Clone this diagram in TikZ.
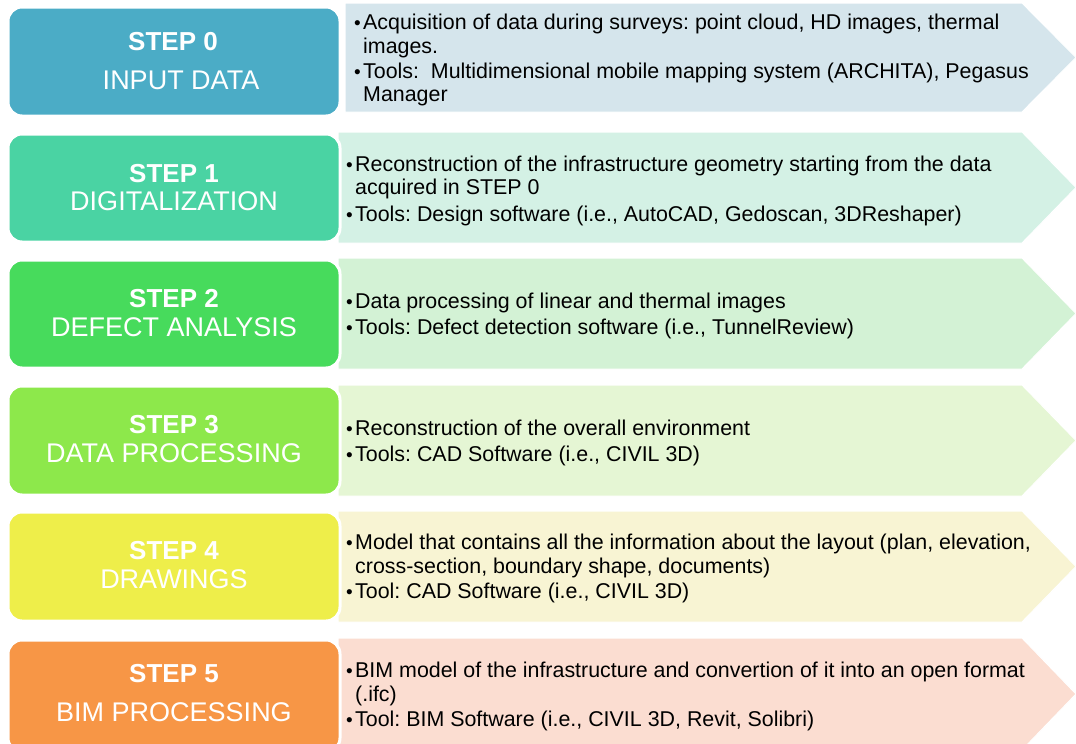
\documentclass[tikz,border=0pt]{standalone}
\usepackage{fontspec}
\setmainfont{Liberation Sans}
\frenchspacing
\definecolor{d0}{HTML}{4BACC6} \definecolor{l0}{HTML}{D5E5EC}
\definecolor{d1}{HTML}{4AD3A3} \definecolor{l1}{HTML}{D4F1E5}
\definecolor{d2}{HTML}{47DB5C} \definecolor{l2}{HTML}{D3F2D5}
\definecolor{d3}{HTML}{8DE84B} \definecolor{l3}{HTML}{E5F6D4}
\definecolor{d4}{HTML}{EEEE4A} \definecolor{l4}{HTML}{F8F4D3}
\definecolor{d5}{HTML}{F79646} \definecolor{l5}{HTML}{FBDDD1}
\tikzset{
  stepbox/.style={rounded corners=14pt, draw=white, line width=3pt},
  arrowbox/.style={draw=white, line width=1pt, line join=miter},
  steptitle/.style={text=white, inner sep=0pt, font=\bfseries\fontsize{26}{30}\selectfont},
  stepsub/.style={text=white, inner sep=0pt, font=\fontsize{27}{31}\selectfont},
  body/.style={anchor=base west, inner sep=0pt, font=\fontsize{21.4}{24}\selectfont},
  bul/.style={anchor=base west, inner sep=0pt, font=\fontsize{19}{24}\selectfont},
}
\begin{document}
\begin{tikzpicture}[x=1pt,y=-1pt]
\useasboundingbox (0,0) rectangle (1076,744);
% ---------- row 0
\fill[l0,arrowbox] (345,3) -- (1022,3) -- (1076,57.5) -- (1022,112) -- (345,112) -- cycle;
\fill[d0,stepbox] (8,7) rectangle (340,116);
\node[steptitle] (t0) at (173,42) {STEP 0};
\node[stepsub] (s0) at (181,80) {INPUT DATA};
\node[bul] (b0a) at (354,29) {•};
\node[body] (x0a) at (363,29) {Acquisition of data during surveys: point cloud, HD images, thermal};
\node[body] (x0b) at (363,53) {images.};
\node[bul] (b0b) at (354,78) {•};
\node[body] (x0c) at (363,78) {Tools:\ \ Multidimensional mobile mapping system (ARCHITA), Pegasus};
\node[body] (x0d) at (363,101) {Manager};
% ---------- row 1
\fill[l1,arrowbox] (338,132) -- (1022,132) -- (1076,187.5) -- (1022,243) -- (338,243) -- cycle;
\fill[d1,stepbox] (8,134) rectangle (340,242);
\node[steptitle] (t1) at (174,174) {STEP 1};
\node[stepsub] (s1) at (174,201) {DIGITALIZATION};
\node[bul] (b1a) at (346,171) {•};
\node[body] (x1a) at (355,171) {Reconstruction of the infrastructure geometry starting from the data};
\node[body] (x1b) at (355,194) {acquired in STEP 0};
\node[bul] (b1b) at (346,221) {•};
\node[body] (x1c) at (355,221) {Tools: Design software (i.e., AutoCAD, Gedoscan, 3DReshaper)};
% ---------- row 2
\fill[l2,arrowbox] (338,258) -- (1022,258) -- (1076,313.5) -- (1022,369) -- (338,369) -- cycle;
\fill[d2,stepbox] (8,260) rectangle (340,368);
\node[steptitle] (t2) at (174,299) {STEP 2};
\node[stepsub] (s2) at (174,327) {DEFECT ANALYSIS};
\node[bul] (b2a) at (346,308) {•};
\node[body] (x2a) at (355,308) {Data processing of linear and thermal images};
\node[bul] (b2b) at (346,334) {•};
\node[body] (x2b) at (355,334) {Tools: Defect detection software (i.e., TunnelReview)};
% ---------- row 3
\fill[l3,arrowbox] (338,385) -- (1022,385) -- (1076,440.5) -- (1022,496) -- (338,496) -- cycle;
\fill[d3,stepbox] (8,386) rectangle (340,495);
\node[steptitle] (t3) at (174,425) {STEP 3};
\node[stepsub] (s3) at (174,453) {DATA PROCESSING};
\node[bul] (b3a) at (346,435) {•};
\node[body] (x3a) at (355,435) {Reconstruction of the overall environment};
\node[bul] (b3b) at (346,461) {•};
\node[body] (x3b) at (355,461) {Tools: CAD Software (i.e., CIVIL 3D)};
% ---------- row 4
\fill[l4,arrowbox] (338,511) -- (1022,511) -- (1076,566.5) -- (1022,622) -- (338,622) -- cycle;
\fill[d4,stepbox] (8,512) rectangle (340,621);
\node[steptitle] (t4) at (174,551) {STEP 4};
\node[stepsub] (s4) at (174,579) {DRAWINGS};
\node[bul] (b4a) at (346,549) {•};
\node[body] (x4a) at (355,549) {Model that contains all the information about the layout (plan, elevation,};
\node[body] (x4b) at (355,573) {cross-section, boundary shape, documents)};
\node[bul] (b4b) at (346,598) {•};
\node[body] (x4c) at (355,598) {Tool: CAD Software (i.e., CIVIL 3D)};
% ---------- row 5
\fill[l5,arrowbox] (338,638) -- (1022,638) -- (1076,694) -- (1022,750) -- (338,750) -- cycle;
\fill[d5,stepbox] (8,640) rectangle (340,752);
\node[steptitle] (t5) at (174,674) {STEP 5};
\node[stepsub] (s5) at (174,712) {BIM PROCESSING};
\node[bul] (b5a) at (346,677) {•};
\node[body] (x5a) at (355,677) {BIM model of the infrastructure and convertion of it into an open format};
\node[body] (x5b) at (355,701) {(.ifc)};
\node[bul] (b5b) at (346,726) {•};
\node[body] (x5c) at (355,726) {Tool: BIM Software (i.e., CIVIL 3D, Revit, Solibri)};
\end{tikzpicture}
\end{document}
